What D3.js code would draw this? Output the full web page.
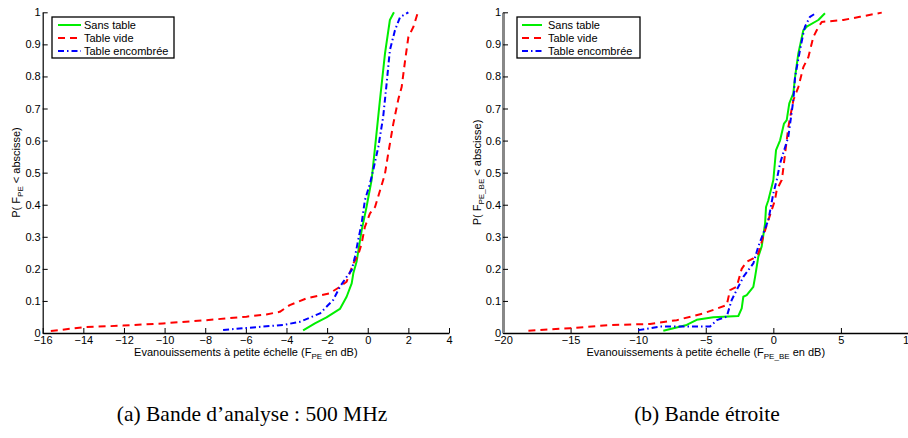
<!DOCTYPE html>
<html>
<head>
<meta charset="utf-8">
<script src="https://cdn.jsdelivr.net/npm/d3@7"></script>
<style>
  html, body { margin: 0; padding: 0; background: #fff; }
  svg { display: block; }
</style>
</head>
<body>
<svg id="chart" width="908" height="438"></svg>
<script>
// ---------------- DATA ----------------
const seriesNames = ["Sans table", "Table vide", "Table encombrée"];
const yTicks = [0, 0.1, 0.2, 0.3, 0.4, 0.5, 0.6, 0.7, 0.8, 0.9, 1];
const leftXTicks = [-16, -14, -12, -10, -8, -6, -4, -2, 0, 2, 4];
const rightXTicks = [-20, -15, -10, -5, 0, 5, 10];
const leftXDomain = [-16, 4];
const rightXDomain = [-20, 10];

// Left panel (500 MHz band): [dB, probability]
const leftSansTable = [
  [-3.18, 0.008], [-2.6, 0.03], [-2.03, 0.049], [-1.37, 0.075], [-1.04, 0.113],
  [-0.79, 0.155], [-0.71, 0.186], [-0.55, 0.222], [-0.30, 0.32], [-0.06, 0.393],
  [0.19, 0.477], [0.43, 0.622], [0.60, 0.726], [0.85, 0.872], [1.09, 0.976], [1.29, 1.0]
];
const leftTableVide = [
  [-15.6, 0.006], [-14.0, 0.018], [-12.05, 0.023], [-10.08, 0.03], [-7.94, 0.04],
  [-5.97, 0.051], [-4.99, 0.058], [-4.33, 0.066], [-3.84, 0.087], [-3.02, 0.108],
  [-1.87, 0.124], [-1.37, 0.144], [-1.04, 0.16], [-0.71, 0.217], [-0.47, 0.243],
  [-0.30, 0.279], [-0.14, 0.331], [0.11, 0.373], [0.36, 0.393], [0.76, 0.477],
  [0.85, 0.497], [1.01, 0.56], [1.26, 0.653], [1.51, 0.73], [1.67, 0.767],
  [1.84, 0.85], [2.0, 0.923], [2.25, 0.955], [2.44, 0.994]
];
const leftTableEncombree = [
  [-7.12, 0.009], [-6.13, 0.015], [-4.16, 0.025], [-3.34, 0.035], [-2.35, 0.061],
  [-1.70, 0.103], [-1.37, 0.144], [-1.04, 0.175], [-0.79, 0.196], [-0.63, 0.238],
  [-0.47, 0.29], [-0.30, 0.342], [-0.14, 0.414], [0.11, 0.466], [0.27, 0.508],
  [0.52, 0.58], [0.76, 0.674], [0.93, 0.778], [1.09, 0.882], [1.34, 0.944],
  [1.59, 0.985], [2.0, 1.0]
];

// Right panel (narrow band): [dB, probability]
const rightSansTable = [
  [-8.14, 0.007], [-6.41, 0.025], [-5.67, 0.041], [-4.44, 0.049], [-2.59, 0.053],
  [-2.34, 0.077], [-2.22, 0.113], [-1.97, 0.118], [-1.48, 0.144], [-1.35, 0.175],
  [-1.11, 0.238], [-0.86, 0.27], [-0.61, 0.342], [-0.54, 0.393], [-0.37, 0.414],
  [-0.12, 0.456], [0.0, 0.477], [0.2, 0.57], [0.5, 0.601], [0.79, 0.653],
  [0.99, 0.664], [1.18, 0.716], [1.48, 0.747], [1.61, 0.799], [1.85, 0.872],
  [2.22, 0.944], [2.47, 0.955], [3.33, 0.976], [3.82, 0.997]
];
const rightTableVide = [
  [-18.12, 0.007], [-15.04, 0.015], [-12.08, 0.025], [-9.12, 0.028], [-7.15, 0.04],
  [-5.18, 0.061], [-3.45, 0.087], [-3.2, 0.134], [-2.71, 0.144], [-2.34, 0.2],
  [-1.97, 0.222], [-1.48, 0.233], [-1.11, 0.248], [-0.61, 0.32], [-0.37, 0.352],
  [0.12, 0.414], [0.25, 0.446], [0.62, 0.477], [0.69, 0.497], [1.11, 0.642],
  [1.48, 0.726], [1.85, 0.767], [2.22, 0.829], [2.59, 0.86], [2.96, 0.923],
  [3.21, 0.944], [3.58, 0.97], [5.18, 0.976], [6.41, 0.986], [8.02, 0.999]
];
const rightTableEncombree = [
  [-9.99, 0.009], [-8.38, 0.02], [-5.92, 0.02], [-4.68, 0.02], [-4.19, 0.04],
  [-3.45, 0.051], [-3.08, 0.103], [-2.71, 0.134], [-2.22, 0.175], [-1.48, 0.217],
  [-1.11, 0.27], [-0.74, 0.311], [-0.37, 0.352], [0.0, 0.435], [0.25, 0.477],
  [0.5, 0.529], [1.11, 0.612], [1.48, 0.726], [1.61, 0.799], [1.97, 0.882],
  [2.22, 0.934], [2.34, 0.955], [2.71, 0.986], [3.21, 0.999]
];

const captions = ["(a) Bande d\u2019analyse : 500 MHz", "(b) Bande \u00e9troite"];

// ---------------- STYLE ----------------
const SANS = "'Liberation Sans', Arial, Helvetica, sans-serif";
const SERIF = "'Liberation Serif', 'Times New Roman', serif";
const styles = [
  { color: "#00ee00", dash: null },
  { color: "#ff0000", dash: "7,5" },
  { color: "#0000ff", dash: "6,3,1.5,3" }
];

const svg = d3.select("#chart");
const fmtTick = d => (d < 0 ? "\u2212" + Math.abs(d) : String(d));
const fmtY = d => String(+d.toFixed(1));

function drawPanel(cfg) {
  const x = d3.scaleLinear().domain(cfg.xDomain).range(cfg.xRange);
  const y = d3.scaleLinear().domain([0, 1]).range([333, 12.3]);
  const g = svg.append("g");

  // x axis
  const xAxis = d3.axisBottom(x).tickValues(cfg.xTicks).tickFormat(fmtTick)
    .tickSizeInner(-5).tickSizeOuter(0).tickPadding(3);
  const gx = g.append("g").attr("transform", `translate(0,${y(0)})`).call(xAxis);
  gx.select(".domain").attr("stroke", "#000").attr("stroke-width", 1.3);
  gx.selectAll(".tick line").attr("stroke", "#000");
  gx.selectAll("text").attr("font-size", 11).attr("fill", "#000").style("font-family", SANS);

  // y axis
  const yAxis = d3.axisLeft(y).tickValues(yTicks).tickFormat(fmtY)
    .tickSizeInner(-5).tickSizeOuter(0).tickPadding(2);
  const gy = g.append("g").attr("transform", `translate(${cfg.xRange[0]},0)`).call(yAxis);
  gy.select(".domain").attr("stroke", cfg.yAxisColor).attr("stroke-width", cfg.yAxisWidth);
  gy.selectAll(".tick line").attr("stroke", "#000");
  gy.selectAll("text").attr("font-size", 11).attr("fill", "#000").style("font-family", SANS);

  // clip
  const clipId = "clip" + cfg.id;
  svg.append("clipPath").attr("id", clipId).append("rect")
    .attr("x", cfg.xRange[0]).attr("y", 0)
    .attr("width", cfg.xRange[1] - cfg.xRange[0] + 5).attr("height", 340);

  // curves
  const line = d3.line().x(d => x(d[0])).y(d => y(d[1]));
  cfg.series.forEach((s, i) => {
    g.append("path").datum(s).attr("d", line)
      .attr("clip-path", `url(#${clipId})`)
      .attr("fill", "none").attr("stroke", styles[i].color)
      .attr("stroke-width", 2)
      .attr("stroke-dasharray", styles[i].dash)
      .attr("stroke-linejoin", "round");
  });

  // legend
  const lg = g.append("g");
  lg.append("rect").attr("x", cfg.leg.x).attr("y", 17).attr("width", cfg.leg.w).attr("height", 41)
    .attr("fill", "#fff").attr("stroke", "#000").attr("stroke-width", 1.3);
  seriesNames.forEach((n, i) => {
    const yy = 25 + i * 13;
    lg.append("line").attr("x1", cfg.leg.l1).attr("x2", cfg.leg.l2).attr("y1", yy).attr("y2", yy)
      .attr("stroke", styles[i].color).attr("stroke-width", 2)
      .attr("stroke-dasharray", styles[i].dash);
    lg.append("text").attr("x", cfg.leg.tx).attr("y", yy + 4).attr("font-size", 11)
      .style("font-family", SANS).attr("fill", "#000").text(n);
  });

  // x label
  const cx = (cfg.xRange[0] + cfg.xRange[1]) / 2;
  const xl = g.append("text").attr("x", cx).attr("y", 356).attr("text-anchor", "middle")
    .attr("font-size", 11).style("font-family", SANS).attr("fill", "#000");
  xl.append("tspan").text("Evanouissements \u00e0 petite \u00e9chelle (F");
  xl.append("tspan").attr("font-size", 8).attr("dy", 3).text(cfg.sub);
  xl.append("tspan").attr("dy", -3).text(" en dB)");

  // y label
  const yl = g.append("text")
    .attr("transform", `translate(${cfg.ylx},172.5) rotate(-90)`)
    .attr("text-anchor", "middle").attr("font-size", 11).style("font-family", SANS).attr("fill", "#000");
  yl.append("tspan").text("P( F");
  yl.append("tspan").attr("font-size", 8).attr("dy", 3).text(cfg.sub);
  yl.append("tspan").attr("dy", -3).text(" < abscisse)");

  // caption
  svg.append("text").attr("x", cfg.capX).attr("y", 421).attr("text-anchor", "middle")
    .style("font-family", SERIF)
    .attr("font-size", 21.5).attr("fill", "#000").text(cfg.caption);
}

drawPanel({
  id: "L", xDomain: leftXDomain, xRange: [42.7, 449], xTicks: leftXTicks,
  yAxisColor: "#000", yAxisWidth: 1.2,
  series: [leftSansTable, leftTableVide, leftTableEncombree],
  leg: { x: 52, w: 122, l1: 58, l2: 81, tx: 84 },
  sub: "PE", ylx: 20, caption: captions[0], capX: 252
});
drawPanel({
  id: "R", xDomain: rightXDomain, xRange: [503, 908.5], xTicks: rightXTicks,
  yAxisColor: "#888", yAxisWidth: 3,
  series: [rightSansTable, rightTableVide, rightTableEncombree],
  leg: { x: 517, w: 123, l1: 522, l2: 542, tx: 548 },
  sub: "PE_BE", ylx: 481, caption: captions[1], capX: 707
});
</script>
</body>
</html>
